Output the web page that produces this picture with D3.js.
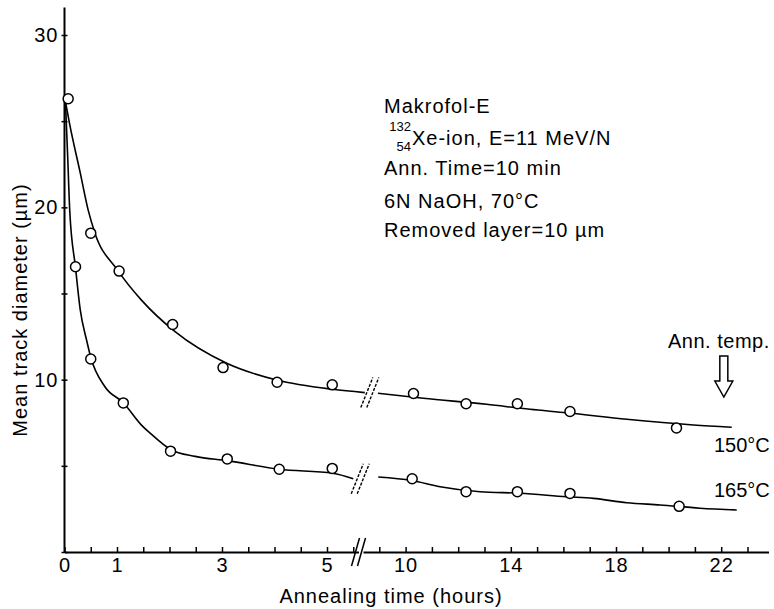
<!DOCTYPE html>
<html>
<head>
<meta charset="utf-8">
<script src="https://cdn.jsdelivr.net/npm/d3@7"></script>
<style>
  body { margin: 0; background: #fff; }
  svg text { font-family: "Liberation Sans", Arial, sans-serif; fill: #000; letter-spacing: 1px; }
</style>
</head>
<body>
<svg id="chart" width="774" height="609"></svg>
<script>
// measured points (hours, diameter in um)
const t150 = [0.07, 0.5, 1.04, 2.06, 3.02, 4.05, 5.1, 10.3, 12.3, 14.25, 16.25, 20.3];
const d150 = [26.3, 18.5, 16.3, 13.2, 10.7, 9.85, 9.7, 9.2, 8.6, 8.6, 8.15, 7.2];
const t165 = [0.21, 0.5, 1.12, 2.02, 3.1, 4.09, 5.1, 10.25, 12.3, 14.25, 16.25, 20.4];
const d165 = [16.55, 11.2, 8.65, 5.85, 5.4, 4.8, 4.85, 4.25, 3.5, 3.5, 3.4, 2.65];

// fitted curves, split at the axis break
const fit150LeftT = [0.02, 0.1, 0.3, 0.45, 0.58, 1.0, 1.47, 2.1, 3.09, 4.04, 5.11, 5.72];
const fit150LeftD = [26.1, 24.8, 22.0, 19.85, 18.5, 16.4, 14.6, 12.8, 10.95, 9.98, 9.44, 9.25];
const fit150RightT = [8.95, 10.67, 13.08, 14.73, 16.13, 18.41, 20.94, 22.4];
const fit150RightD = [9.21, 8.92, 8.57, 8.28, 8.08, 7.70, 7.37, 7.24];
const fit165LeftT = [0.02, 0.06, 0.1, 0.21, 0.3, 0.42, 0.5, 0.77, 1.12, 1.47, 1.63, 2.02, 2.49, 3.1, 4.09, 5.11, 5.5];
const fit165LeftD = [26.0, 23.0, 19.8, 16.5, 14.05, 12.3, 11.3, 9.59, 8.66, 7.35, 6.9, 5.95, 5.55, 5.3, 4.8, 4.57, 4.25];
const fit165RightT = [8.96, 10.23, 11.31, 12.83, 14.35, 16.11, 17.14, 18.41, 19.68, 21.19, 22.59];
const fit165RightD = [4.35, 4.15, 3.79, 3.5, 3.41, 3.21, 3.11, 2.86, 2.73, 2.54, 2.44];

const xLeftTicks = [0, 0.5, 1, 1.5, 2, 2.5, 3, 3.5, 4, 4.5, 5, 5.5];
const xLeftLabels = [0, 1, 3, 5];
const xRightTicks = [9, 10, 11, 12, 13, 14, 15, 16, 17, 18, 19, 20, 21, 22, 23];
const xRightLabels = [10, 14, 18, 22];
const yTicks = [0, 5, 10, 15, 20, 25, 30];
const yLabels = [10, 20, 30];

const notes = ["Makrofol-E", "Xe-ion, E=11 MeV/N", "Ann. Time=10 min", "6N NaOH, 70\u00B0C", "Removed layer=10 \u00B5m"];

const svg = d3.select('#chart');
const fs = 20;

// scales: left part 0-5.6 h, right part after the break
const xL = d3.scaleLinear().domain([0, 5.6]).range([64.5, 358.5]);
const xR = d3.scaleLinear().domain([10, 22]).range([405.6, 721.2]);
const y = d3.scaleLinear().domain([0, 30]).range([552, 35]);

function zip(ts, ds) { return ts.map((t, i) => ({ t: t, d: ds[i] })); }

// x axis, left part
const axL = d3.axisBottom(xL).tickValues(xLeftTicks)
  .tickFormat(d => xLeftLabels.includes(d) ? d : '')
  .tickSizeInner(-5).tickSizeOuter(0).tickPadding(6);
const gxL = svg.append('g').attr('transform', 'translate(0,552)').call(axL);

// x axis, right part
const xR2 = xR.copy().domain([xR.invert(363), 23.8]).range([363, xR(23.8)]);
const axR = d3.axisBottom(xR2).tickValues(xRightTicks)
  .tickFormat(d => xRightLabels.includes(d) ? d : '')
  .tickSizeInner(-5).tickSizeOuter(0).tickPadding(6);
const gxR = svg.append('g').attr('transform', 'translate(0,552)').call(axR);

// y axis
const ax = d3.axisLeft(y).tickValues(yTicks)
  .tickFormat(d => yLabels.includes(d) ? d : '')
  .tickSizeInner(3).tickSizeOuter(0).tickPadding(3);
const gy = svg.append('g').attr('transform', 'translate(64.5,0)').call(ax);
gy.select('.domain').attr('d', 'M0,' + y(0) + 'V' + y(31.6));
gy.selectAll('.tick line').attr('x1', 3);

[gxL, gxR, gy].forEach(g => {
  g.select('.domain').attr('stroke', '#000').attr('stroke-width', 2);
  g.selectAll('.tick line').attr('stroke', '#000').attr('stroke-width', 1.5);
  g.selectAll('.tick text').attr('font-size', fs).attr('font-family', null);
});

// axis break marks
const bx = xL(5.6);
[-3, 3].forEach(o => {
  svg.append('line')
    .attr('x1', bx + o - 4).attr('y1', 566)
    .attr('x2', bx + o + 4).attr('y2', 538)
    .attr('stroke', '#000').attr('stroke-width', 1.5);
});

// curves
const lineL = d3.line().x(d => xL(d.t)).y(d => y(d.d)).curve(d3.curveMonotoneX);
const lineR = d3.line().x(d => xR(d.t)).y(d => y(d.d)).curve(d3.curveMonotoneX);
[[fit150LeftT, fit150LeftD, lineL], [fit150RightT, fit150RightD, lineR],
 [fit165LeftT, fit165LeftD, lineL], [fit165RightT, fit165RightD, lineR]].forEach(c => {
  svg.append('path').datum(zip(c[0], c[1]))
    .attr('d', c[2]).attr('fill', 'none')
    .attr('stroke', '#000').attr('stroke-width', 1.6);
});

// curve break marks
[[xL(5.72) + 5, fit150LeftD[fit150LeftD.length - 1]], [xL(5.5) + 7, fit165LeftD[fit165LeftD.length - 1]]].forEach(b => {
  [-3, 3].forEach(o => {
    svg.append('line')
      .attr('x1', b[0] + o - 6).attr('y1', y(b[1]) + 15)
      .attr('x2', b[0] + o + 6).attr('y2', y(b[1]) - 15)
      .attr('stroke', '#000').attr('stroke-width', 1.4)
      .attr('stroke-dasharray', '3,1.5');
  });
});

// data points
function xPos(t) { return t < 7 ? xL(t) : xR(t); }
[zip(t150, d150), zip(t165, d165)].forEach(s => {
  svg.append('g').selectAll('circle').data(s).enter().append('circle')
    .attr('cx', d => xPos(d.t)).attr('cy', d => y(d.d)).attr('r', 5)
    .attr('fill', '#fff').attr('stroke', '#000').attr('stroke-width', 1.5);
});

// axis titles
svg.append('text').attr('x', 391).attr('y', 603).attr('text-anchor', 'middle')
  .attr('font-size', fs).text('Annealing time (hours)');
svg.append('text').attr('transform', 'translate(27,310) rotate(-90)').attr('text-anchor', 'middle')
  .attr('font-size', fs).text('Mean track diameter (\u00B5m)');

// annotation block
const nx = 384;
const ny = [113, 145, 175, 208, 237];
notes.forEach((s, i) => {
  svg.append('text').attr('x', i === 1 ? nx + 28 : nx).attr('y', ny[i]).attr('font-size', fs).text(s);
});
svg.append('text').attr('x', nx + 27).attr('y', 131).attr('font-size', 13)
  .attr('text-anchor', 'end').style('letter-spacing', '0px').text('132');
svg.append('text').attr('x', nx + 27).attr('y', 151).attr('font-size', 13)
  .attr('text-anchor', 'end').style('letter-spacing', '0px').text('54');

// temperature labels
svg.append('text').attr('x', 714).attr('y', 452).attr('font-size', fs).style('letter-spacing', '0px').text('150\u00B0C');
svg.append('text').attr('x', 714).attr('y', 497).attr('font-size', fs).style('letter-spacing', '0px').text('165\u00B0C');

// annealing temperature arrow
svg.append('text').attr('x', 668).attr('y', 348).attr('font-size', fs).style('letter-spacing', '0.5px').text('Ann. temp.');
const ax0 = xR(22.1);
svg.append('path')
  .attr('d', `M${ax0 - 4},356 V381 H${ax0 - 9} L${ax0},397 L${ax0 + 9},381 H${ax0 + 4} V356 Z`)
  .attr('fill', '#fff').attr('stroke', '#000').attr('stroke-width', 1.5);
</script>
</body>
</html>
